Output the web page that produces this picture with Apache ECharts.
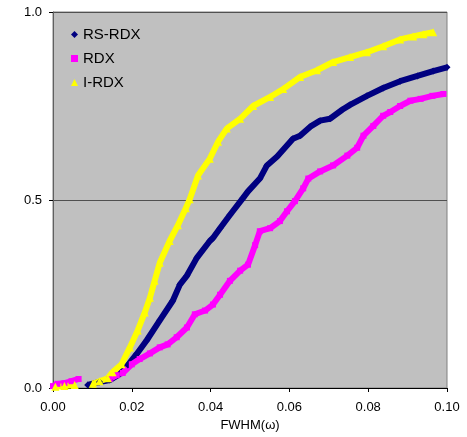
<!DOCTYPE html>
<html>
<head>
<meta charset="utf-8">
<script src="https://cdn.jsdelivr.net/npm/echarts@6/dist/echarts.min.js"></script>
<style>
  html, body { margin: 0; padding: 0; background: #fff; }
  #chart { width: 467px; height: 437px; }
</style>
</head>
<body>
<div id="chart"></div>
<script>
// x = FWHM(ω), y = cumulative fraction ; null = gap in the markers
var rsX = [0.0088, 0.0118, 0.0144, 0.0169, 0.0190, 0.0212, 0.0238, 0.0271, 0.0304, 0.0322,
           0.0340, 0.0365, 0.0398, 0.0406, 0.0424, 0.0449, 0.0482, 0.0495, 0.0525, 0.0543,
           0.0569, 0.0609, 0.0627, 0.0653, 0.0678, 0.0703, 0.0734, 0.0754, 0.0797, 0.0838,
           0.0881, 0.0925, 0.0965, 0.1000];
var rsY = [0.008, 0.016, 0.021, 0.037, 0.061, 0.090, 0.127, 0.180, 0.232, 0.275,
           0.299, 0.346, 0.391, 0.399, 0.425, 0.460, 0.505, 0.523, 0.557, 0.592,
           0.616, 0.663, 0.671, 0.695, 0.711, 0.716, 0.740, 0.753, 0.777, 0.798,
           0.816, 0.830, 0.843, 0.853];

var rdxX = [0.0000, 0.0011, 0.0029, 0.0047, 0.0065, 0.0100, 0.0144, 0.0162, 0.0177, 0.0200,
            0.0220, 0.0246, 0.0271, 0.0291, 0.0314, 0.0340, 0.0360, 0.0386, 0.0406, 0.0424,
            0.0449, 0.0475, 0.0495, 0.0513, 0.0525, 0.0551, 0.0576, 0.0594, 0.0614, 0.0635,
            0.0648, 0.0678, 0.0711, 0.0747, 0.0772, 0.0788, 0.0813, 0.0838, 0.0856, 0.0881,
            0.0907, 0.0933, 0.0963, 0.0991];
var rdxY = [0.005, 0.011, 0.013, 0.018, 0.024, null, 0.024, 0.034, 0.040, 0.063,
            0.077, 0.092, 0.108, 0.116, 0.135, 0.161, 0.196, 0.206, 0.222, 0.248,
            0.285, 0.312, 0.328, 0.380, 0.417, 0.425, 0.444, 0.470, 0.497, 0.531,
            0.557, 0.576, 0.592, 0.618, 0.639, 0.671, 0.697, 0.724, 0.734, 0.750,
            0.764, 0.769, 0.777, 0.782];

var irdxX = [0.0006, 0.0029, 0.0055, 0.0080, 0.0101, 0.0118, 0.0139, 0.0151, 0.0174, 0.0195,
             0.0215, 0.0233, 0.0246, 0.0258, 0.0271, 0.0296, 0.0317, 0.0337, 0.0347, 0.0368,
             0.0398, 0.0419, 0.0441, 0.0475, 0.0508, 0.0551, 0.0584, 0.0627, 0.0670, 0.0711,
             0.0754, 0.0797, 0.0838, 0.0881, 0.0914, 0.0940, 0.0965];
var irdxY = [0.003, 0.005, 0.008, null, 0.011, 0.018, 0.026, 0.042, 0.063, 0.108,
             0.153, 0.201, 0.240, 0.285, 0.333, 0.391, 0.433, 0.478, 0.502, 0.565,
             0.610, 0.655, 0.690, 0.716, 0.750, 0.774, 0.795, 0.827, 0.845, 0.867,
             0.880, 0.893, 0.909, 0.927, 0.935, 0.941, 0.946];

var seriesNames = ["RS-RDX", "RDX", "I-RDX"];
var xTicks = [0, 0.02, 0.04, 0.06, 0.08, 0.1];
var yTicks = [0, 0.5, 1];

function pairs(xs, ys) {
  return xs.map(function (x, i) {
    return [x, ys[i] === null ? "-" : ys[i]];
  });
}

var chart = echarts.init(document.getElementById("chart"));
var font = "Liberation Sans, Arial, sans-serif";

chart.setOption({
  animation: false,
  textStyle: { fontFamily: font },
  grid: {
    left: 53,
    right: 20,
    top: 12,
    bottom: 46,
    show: true,
    backgroundColor: "#c0c0c0",
    borderColor: "#808080",
    borderWidth: 1,
  },
  legend: {
    orient: "vertical",
    left: 66,
    top: 22,
    itemWidth: 7,
    itemHeight: 7,
    itemGap: 9,
    textStyle: { fontSize: 15, color: "#000", fontFamily: font },
    data: [
      { name: seriesNames[0], icon: "diamond" },
      { name: seriesNames[1], icon: "rect" },
      { name: seriesNames[2], icon: "triangle" },
    ],
  },
  xAxis: {
    type: "value",
    min: xTicks[0],
    max: xTicks[xTicks.length - 1],
    interval: 0.02,
    name: "FWHM(ω)",
    nameLocation: "middle",
    nameGap: 31,
    nameTextStyle: { fontSize: 13, color: "#000", fontFamily: font },
    axisLine: { show: true, lineStyle: { color: "#000", width: 1 } },
    axisTick: { show: true, length: 4, lineStyle: { color: "#000" } },
    axisLabel: {
      fontSize: 13,
      color: "#000",
      margin: 13,
      formatter: function (v) { return v.toFixed(2); },
    },
    splitLine: { show: false },
  },
  yAxis: {
    type: "value",
    min: yTicks[0],
    max: yTicks[yTicks.length - 1],
    interval: 0.5,
    axisLine: { show: true, lineStyle: { color: "#606060", width: 1 } },
    axisTick: { show: true, length: 4, lineStyle: { color: "#000" } },
    axisLabel: {
      fontSize: 13,
      color: "#000",
      margin: 11,
      formatter: function (v) { return v.toFixed(1); },
    },
    splitLine: { show: true, lineStyle: { color: "#505050", width: 1 } },
  },
  series: [
    {
      name: seriesNames[0],
      type: "line",
      data: pairs(rsX, rsY),
      symbol: "diamond",
      symbolSize: 7,
      showSymbol: true,
      itemStyle: { color: "#000080" },
      lineStyle: { color: "#000080", width: 6 },
    },
    {
      name: seriesNames[1],
      type: "line",
      data: pairs(rdxX, rdxY),
      symbol: "rect",
      symbolSize: 6,
      showSymbol: true,
      itemStyle: { color: "#ff00ff" },
      lineStyle: { color: "#ff00ff", width: 6 },
    },
    {
      name: seriesNames[2],
      type: "line",
      data: pairs(irdxX, irdxY),
      symbol: "triangle",
      symbolSize: 8,
      showSymbol: true,
      itemStyle: { color: "#ffff00" },
      lineStyle: { color: "#ffff00", width: 6 },
    },
  ],
});
</script>
</body>
</html>
